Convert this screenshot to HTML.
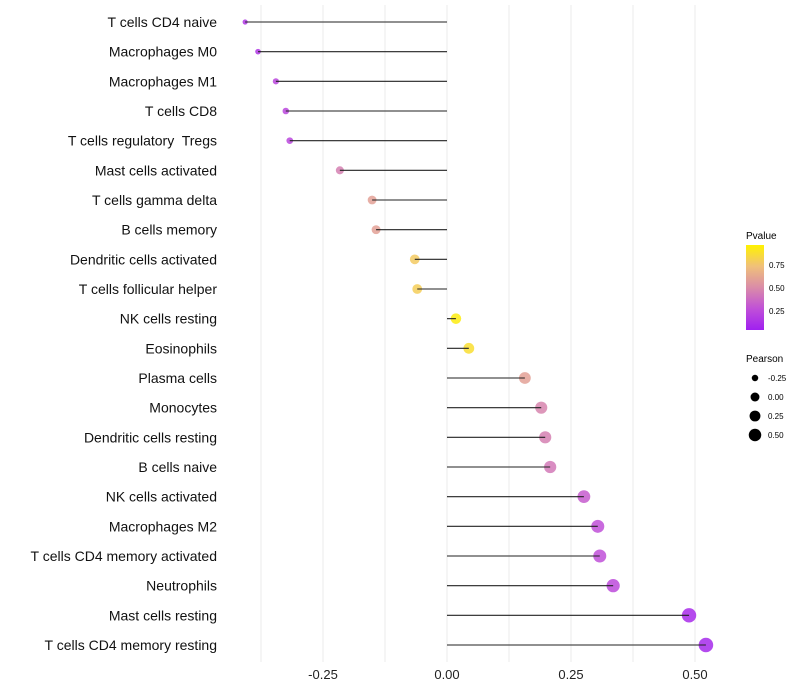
<!DOCTYPE html>
<html><head><meta charset="utf-8"><style>
body{margin:0;background:#fff;}
svg{display:block;font-family:"Liberation Sans",sans-serif;}
</style></head><body>
<svg id="chart" width="800" height="700" viewBox="0 0 800 700" xmlns="http://www.w3.org/2000/svg">
<g id="grid"></g>
<g id="ylabels"></g>
<g id="marks"></g>
<g id="xlabels"></g>
<g id="legend">
<defs><linearGradient id="pgrad" x1="0" y1="1" x2="0" y2="0">
<stop offset="0" stop-color="#A020F0"/><stop offset="0.25" stop-color="#C050D8"/><stop offset="0.5" stop-color="#DA8CA8"/><stop offset="0.75" stop-color="#F0C07A"/><stop offset="1" stop-color="#FFF200"/></linearGradient></defs>
<text x="746" y="239" font-size="10">Pvalue</text>
<rect x="746" y="245" width="18" height="85" fill="url(#pgrad)"/>
<text x="769" y="268" font-size="8">0.75</text>
<text x="769" y="291" font-size="8">0.50</text>
<text x="769" y="314" font-size="8">0.25</text>
<text x="746" y="362" font-size="10">Pearson</text>
<g id="sizeleg"></g>
</g>
</svg>
<script>
const categories=["T cells CD4 naive","Macrophages M0","Macrophages M1","T cells CD8","T cells regulatory  Tregs","Mast cells activated","T cells gamma delta","B cells memory","Dendritic cells activated","T cells follicular helper","NK cells resting","Eosinophils","Plasma cells","Monocytes","Dendritic cells resting","B cells naive","NK cells activated","Macrophages M2","T cells CD4 memory activated","Neutrophils","Mast cells resting","T cells CD4 memory resting"];
const pearson=[-0.407,-0.381,-0.345,-0.325,-0.317,-0.216,-0.151,-0.143,-0.065,-0.060,0.018,0.044,0.157,0.190,0.198,0.208,0.276,0.304,0.308,0.335,0.488,0.522];
const pvalues=[0.12,0.12,0.2,0.2,0.2,0.45,0.6,0.6,0.8,0.82,0.97,0.9,0.6,0.47,0.45,0.42,0.3,0.25,0.25,0.22,0.06,0.05];
const xTicks=[-0.25,0,0.25,0.5];
const xTickLabels=["-0.25","0.00","0.25","0.50"];
const sizeLegendVals=[-0.25,0,0.25,0.5];
const sizeLegendLabels=["-0.25","0.00","0.25","0.50"];

const NS="http://www.w3.org/2000/svg";
const xs=v=>447+v*496;
const ys=i=>22+i*(645-22)/21;
const rad=v=>Math.sqrt(Math.max(3,27+50*v));
const legRad=v=>Math.sqrt(Math.max(3,20+38*v));
const stops=[[0,[160,32,240]],[0.25,[192,80,216]],[0.5,[218,140,168]],[0.75,[240,192,122]],[1,[255,242,0]]];
function col(p){for(let k=1;k<stops.length;k++){if(p<=stops[k][0]){const a=stops[k-1],b=stops[k];const t=(p-a[0])/(b[0]-a[0]);const c=a[1].map((x,j)=>Math.round(x+(b[1][j]-x)*t));return `rgb(${c})`;}}return "rgb(255,242,0)";}
function mk(t,attrs,parent){const e=document.createElementNS(NS,t);for(const k in attrs)e.setAttribute(k,attrs[k]);parent.appendChild(e);return e;}
const grid=document.getElementById('grid');
for(let v=-0.375;v<=0.501;v+=0.125){
 const g=mk('line',{x1:xs(v),x2:xs(v),y1:5,y2:662,stroke:'#ebebeb','stroke-width':1},grid);
 
 
}
const xl=document.getElementById('xlabels');
xTicks.forEach((v,i)=>{const t=mk('text',{x:xs(v),y:679,'font-size':13,'text-anchor':'middle',fill:'#222'},xl);t.textContent=xTickLabels[i];
 
 });
const yl=document.getElementById('ylabels'),mg=document.getElementById('marks');
categories.forEach((c,i)=>{
 const y=ys(i);
 const t=mk('text',{x:217,y:y+5,'font-size':14,'text-anchor':'end',fill:'#111','xml:space':'preserve'},yl);t.textContent=c;
 t.style.whiteSpace='pre';
 
 
 const p=mk('circle',{cx:xs(pearson[i]),cy:y,r:rad(pearson[i]),fill:col(pvalues[i]),'fill-opacity':0.85},mg);
 
 
 const l=mk('line',{x1:xs(pearson[i]),x2:xs(0),y1:y,y2:y,stroke:'#222','stroke-width':1.1},mg);
 
 
});
const sl=document.getElementById('sizeleg');
sizeLegendVals.forEach((v,i)=>{const y=378+i*19;
 const c=mk('circle',{cx:755,cy:y,r:legRad(v),fill:'#000'},sl);
 
 
 const t=mk('text',{x:768,y:y+3,'font-size':8},sl);t.textContent=sizeLegendLabels[i];
 
 });
</script>
</body></html>
